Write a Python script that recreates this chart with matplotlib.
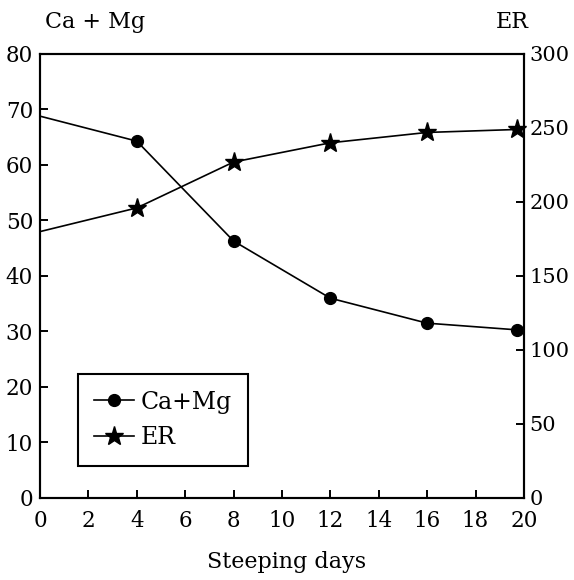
import matplotlib
matplotlib.use("Agg")
import matplotlib.pyplot as plt
from matplotlib.lines import Line2D

days = [0, 4, 8, 12, 16, 19.7]
ca_mg = [68.8, 64.3, 46.3, 36.0, 31.5, 30.3]
er = [180, 196, 227, 240, 247, 249]
x_ticks = [0, 2, 4, 6, 8, 10, 12, 14, 16, 18, 20]
left_ticks = [0, 10, 20, 30, 40, 50, 60, 70, 80]
right_ticks = [0, 50, 100, 150, 200, 250, 300]

plt.rcParams['font.family'] = ['DejaVu Serif']
plt.rcParams['mathtext.fontset'] = 'dejavuserif'

fig = plt.figure(figsize=(5.74, 5.80), dpi=100)
ax = fig.add_axes([0.0697, 0.1414, 0.843, 0.7655])
ax2 = ax.twinx()

ax.plot(days, ca_mg, color='black', lw=1.2, marker='o', ms=8.5,
        markevery=list(range(1, len(days))), clip_on=False, zorder=3)
ax2.plot(days, er, color='black', lw=1.2, marker='*', ms=14,
         markevery=list(range(1, len(days))), clip_on=False, zorder=3)

ax.set_xlim(0, 20)
ax.set_ylim(0, 80)
ax2.set_ylim(0, 300)
ax.set_xticks(x_ticks)
ax.set_yticks(left_ticks)
ax2.set_yticks(right_ticks)

for a in (ax, ax2):
    for s in a.spines.values():
        s.set_linewidth(1.5)
ax.tick_params(axis='x', direction='in', length=6, width=1.4, labelsize=15.5, pad=9)
ax.tick_params(axis='y', direction='in', length=6, width=1.4, labelsize=15.5, pad=5)
ax2.tick_params(axis='y', direction='in', length=6, width=1.4, labelsize=15, pad=4)

fig.text(0.166, 0.962, 'Ca + Mg', fontsize=16, ha='center', va='center')
fig.text(0.893, 0.962, 'ER', fontsize=16, ha='center', va='center')
fig.text(0.50, 0.031, 'Steeping days', fontsize=16, ha='center', va='center')

handles = [
    Line2D([0], [0], color='black', lw=1.2, marker='o', ms=8.5),
    Line2D([0], [0], color='black', lw=1.2, marker='*', ms=14),
]
leg = ax.legend(handles, ['Ca+Mg', 'ER'], loc='lower left',
                bbox_to_anchor=(0.078, 0.072), borderaxespad=0,
                fontsize=17, handlelength=1.7, handletextpad=0.25,
                fancybox=False, framealpha=1, edgecolor='black',
                borderpad=0.7, labelspacing=0.55)
leg.get_frame().set_linewidth(1.5)

fig.savefig('out.png', dpi=100)
